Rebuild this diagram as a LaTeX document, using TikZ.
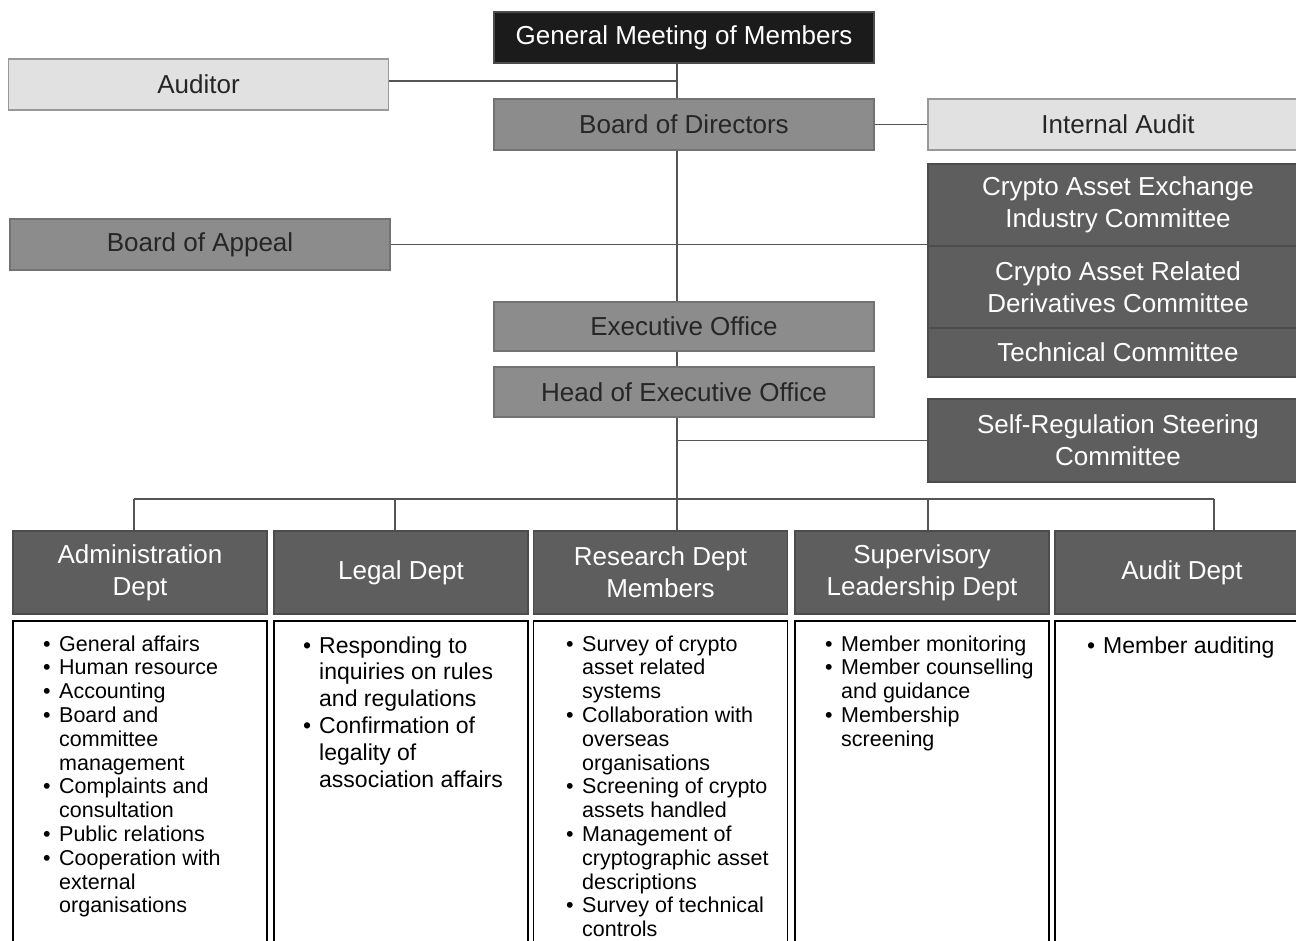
\documentclass[tikz,border=0pt]{standalone}
\usepackage{fontspec}
\setmainfont{Liberation Sans}
\usetikzlibrary{positioning}

\definecolor{gmblack}{HTML}{1B1B1B}
\definecolor{boardgray}{HTML}{8C8C8C}
\definecolor{auditgray}{HTML}{E1E1E1}
\definecolor{cttegray}{HTML}{5E5E5E}
\definecolor{linegray}{HTML}{555555}

\newcommand{\dutylist}[1]{\begin{tabular}[t]{@{}p{16pt}@{}l@{}}#1\end{tabular}}

\tikzset{
  orgbox/.style={rectangle,inner sep=0pt,align=center,line width=1.5pt,
    minimum width=380pt,minimum height=51pt,font=\fontsize{26}{32}\selectfont},
  meeting/.style={orgbox,fill=gmblack,draw=black!70,text=white},
  board/.style={orgbox,fill=boardgray,draw=black!55,text=black!85},
  outside/.style={orgbox,fill=auditgray,draw=black!40,text=black!85},
  cttee/.style={orgbox,fill=cttegray,draw=black!70,text=white},
  dept/.style={cttee,minimum width=254pt,minimum height=83pt},
  duties/.style={draw=black,line width=1.8pt,fill=white,minimum width=254pt,minimum height=340pt},
  items/.style={inner sep=0pt,anchor=base west,font=\fontsize{21.5}{23.8}\selectfont},
  bigitems/.style={items,font=\fontsize{23}{26.8}\selectfont},
  link/.style={draw=linegray,line width=1.8pt}
}

\begin{document}
\begin{tikzpicture}[x={(1pt,0)},y={(0,-1pt)}]
  \useasboundingbox (0,0) rectangle (1296,940);
  \clip (0,0) rectangle (1296,940);

  % top of the chart
  \node[meeting] (gm) at (684,37.5) {General Meeting of Members};
  \node[outside] (auditor) at (198.5,84.5) {Auditor};
  \node[board] (bod) at (684,124.5) {Board of Directors};
  \node[outside] (intaudit) at (1118,124.5) {Internal Audit};
  \node[board] (appeal) at (200,244.5) {Board of Appeal};
  \node[board,minimum height=49pt] (exec) at (684,326.5) {Executive Office};
  \node[board,minimum height=50pt,below=14.5pt of exec] (head) {Head of Executive Office};

  % committees
  \node[cttee,minimum height=82pt] (cae) at (1118,205) {Crypto Asset Exchange\\Industry Committee};
  \node[cttee,minimum height=82pt,below=-1.5pt of cae] (card) {Crypto Asset Related\\Derivatives Committee};
  \node[cttee,minimum height=49pt,below=-1.5pt of card] (tech) {Technical Committee};
  \node[cttee,minimum height=83pt] (srsc) at (1118,440.5) {Self-Regulation Steering\\Committee};

  % departments
  \node[dept] (admin) at (140,572.5) {Administration\\Dept};
  \node[dept] (legal) at (401,572.5) {Legal Dept};
  \node[dept] (research) at (660.5,572.5) {Research Dept\\Members};
  \node[dept] (superv) at (922,572.5) {Supervisory\\Leadership Dept};
  \node[dept] (auditdept) at (1182,572.5) {Audit Dept};

  \foreach \d in {admin,legal,research,superv,auditdept}
    \node[duties,anchor=north] (\d body) at ([yshift=-5pt]\d.south) {};

  \node[items] (adminlist) at (43,651) {\dutylist{%
    \textbullet & General affairs\\
    \textbullet & Human resource\\
    \textbullet & Accounting\\
    \textbullet & Board and\\
    & committee\\
    & management\\
    \textbullet & Complaints and\\
    & consultation\\
    \textbullet & Public relations\\
    \textbullet & Cooperation with\\
    & external\\
    & organisations}};
  \node[bigitems] (legallist) at (303,653) {\dutylist{%
    \textbullet & Responding to\\
    & inquiries on rules\\
    & and regulations\\
    \textbullet & Confirmation of\\
    & legality of\\
    & association affairs}};
  \node[items] (researchlist) at (566,651) {\dutylist{%
    \textbullet & Survey of crypto\\
    & asset related\\
    & systems\\
    \textbullet & Collaboration with\\
    & overseas\\
    & organisations\\
    \textbullet & Screening of crypto\\
    & assets handled\\
    \textbullet & Management of\\
    & cryptographic asset\\
    & descriptions\\
    \textbullet & Survey of technical\\
    & controls}};
  \node[items] (supervlist) at (825,651) {\dutylist{%
    \textbullet & Member monitoring\\
    \textbullet & Member counselling\\
    & and guidance\\
    \textbullet & Membership\\
    & screening}};
  \node[bigitems] (auditlist) at (1087,653) {\dutylist{%
    \textbullet & Member auditing}};

  % connectors
  \coordinate (spine) at (677,0);
  \coordinate (dropA) at (134,499);
  \coordinate (dropL) at (395,499);
  \coordinate (dropS) at (928,499);
  \coordinate (dropU) at (1214,499);

  \draw[link] (gm.south -| spine) -- (bod.north -| spine);
  \draw[link] (auditor.east |- 0,81) -- (spine |- 0,81);
  \draw[link] (bod.east) -- (intaudit.west);
  \draw[link] (bod.south -| spine) -- (exec.north -| spine);
  \draw[link] (appeal.east) -- (appeal.east -| cae.west);
  \draw[link] (exec.south -| spine) -- (head.north -| spine);
  \draw[link] (head.south -| spine) -- (research.north -| spine);
  \draw[link] (srsc.west) -- (srsc.west -| spine);
  \draw[link] (dropA) -- (dropU);
  \draw[link] (dropA) -- (admin.north -| dropA);
  \draw[link] (dropL) -- (legal.north -| dropL);
  \draw[link] (dropS) -- (superv.north -| dropS);
  \draw[link] (dropU) -- (auditdept.north -| dropU);
\end{tikzpicture}
\end{document}
